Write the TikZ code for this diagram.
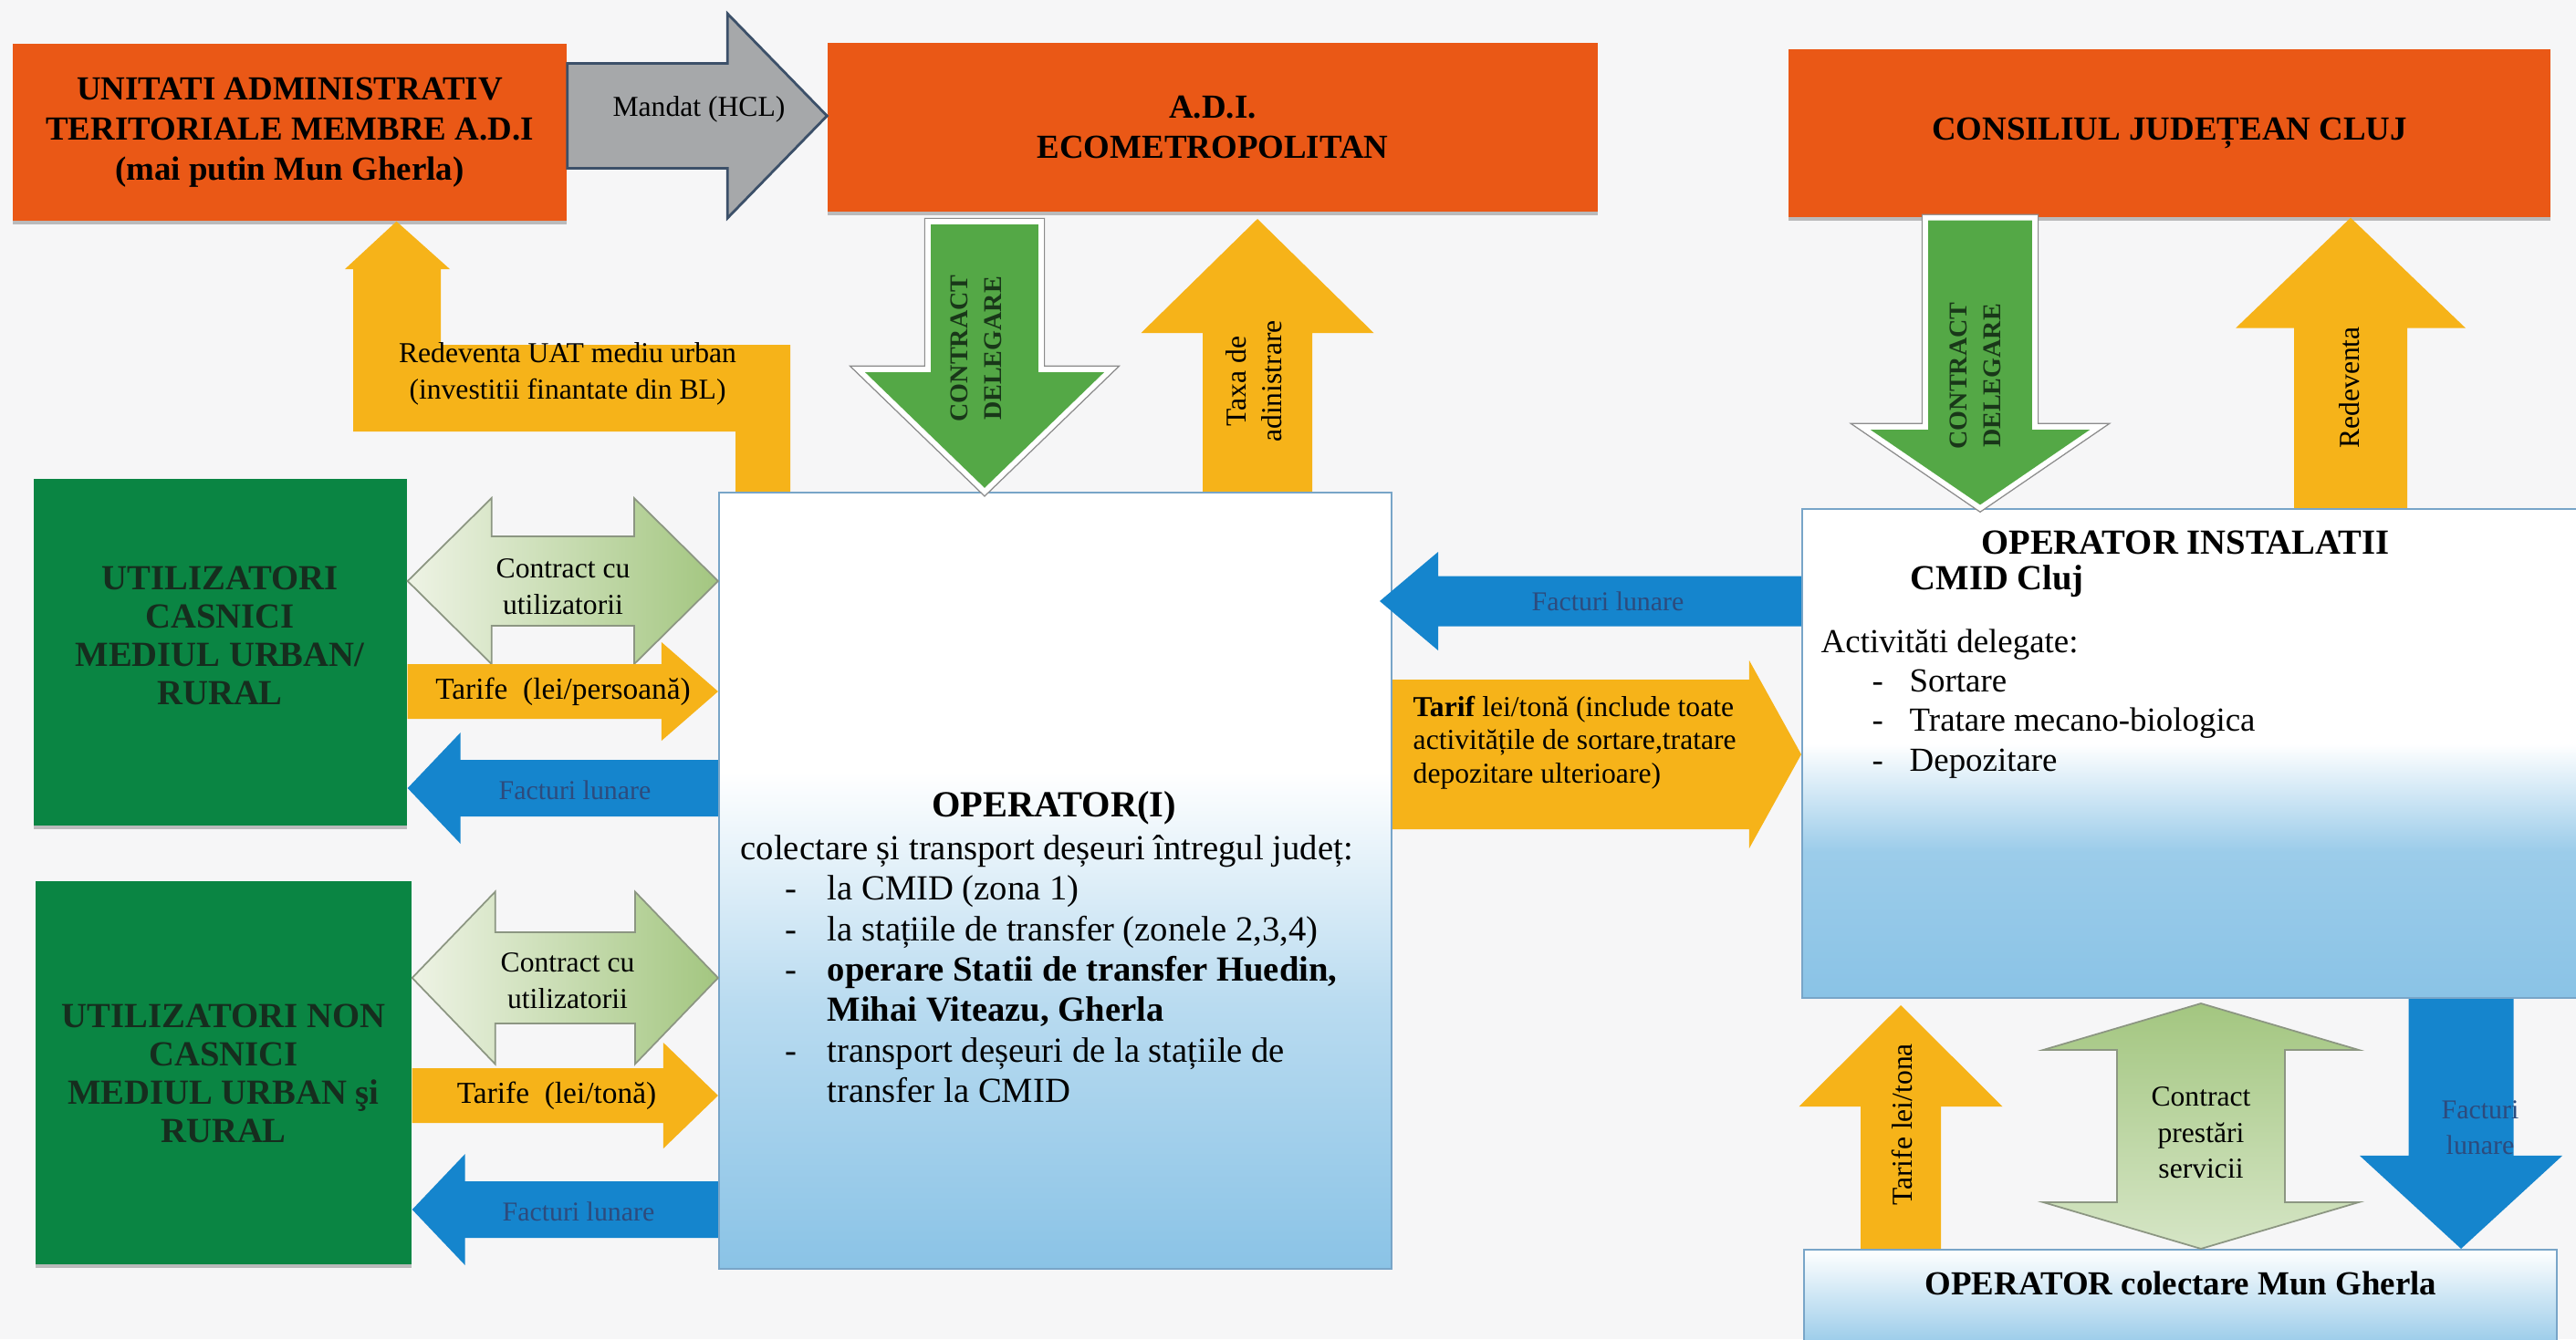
\documentclass[tikz,border=0pt]{standalone}
\usepackage{fontspec}
\setmainfont{Liberation Serif}
\usetikzlibrary{calc,shadows}

\definecolor{bgcol}{RGB}{246,246,247}
\definecolor{adiorange}{RGB}{234,88,22}
\definecolor{boxgreen}{RGB}{10,133,67}
\definecolor{boxtext}{RGB}{22,45,30}
\definecolor{dlgtext}{RGB}{25,55,25}
\definecolor{arryellow}{RGB}{246,179,25}
\definecolor{arrblue}{RGB}{21,133,205}
\definecolor{arrgreen}{RGB}{84,168,70}
\definecolor{bluetext}{RGB}{45,75,125}
\definecolor{cgreen}{RGB}{163,198,128}
\definecolor{cpale}{RGB}{238,243,229}
\definecolor{cedge}{RGB}{140,150,130}
\definecolor{mandgray}{RGB}{166,168,170}
\definecolor{mandedge}{RGB}{60,80,105}
\definecolor{opblue}{RGB}{138,195,230}
\definecolor{opedge}{RGB}{120,165,200}

\pgfdeclareverticalshading{opshade}{100bp}{color(0bp)=(opblue); color(25bp)=(opblue); color(42bp)=(opblue!60!white); color(57bp)=(white); color(100bp)=(white)}
\pgfdeclareverticalshading{instshade}{100bp}{color(0bp)=(opblue); color(25bp)=(opblue); color(40bp)=(opblue!85!white); color(51bp)=(white); color(100bp)=(white)}

% block arrow: [style]{tail}{tip}{body half}{head half}{head length}
\newcommand{\blockarrow}[6][]{%
  \coordinate (ba-h) at ($(#3)!#6!(#2)$);
  \path[#1] ($(#2)!#4!90:(#3)$) -- ($(ba-h)!#4!90:(#3)$) -- ($(ba-h)!#5!90:(#3)$) -- (#3)
    -- ($(ba-h)!#5!-90:(#3)$) -- ($(ba-h)!#4!-90:(#3)$) -- ($(#2)!#4!-90:(#3)$) -- cycle;}
% double arrow: [style]{end a}{end b}{body half}{head half}{head length}
\newcommand{\dblarrow}[6][]{%
  \coordinate (da-a) at ($(#2)!#6!(#3)$);
  \coordinate (da-b) at ($(#3)!#6!(#2)$);
  \path[#1] (#2) -- ($(da-a)!#5!90:(#3)$) -- ($(da-a)!#4!90:(#3)$) -- ($(da-b)!#4!-90:(#2)$)
    -- ($(da-b)!#5!-90:(#2)$) -- (#3) -- ($(da-b)!#5!90:(#2)$) -- ($(da-b)!#4!90:(#2)$)
    -- ($(da-a)!#4!-90:(#3)$) -- ($(da-a)!#5!-90:(#3)$) -- cycle;}
\newcommand{\opitem}{\hspace*{0.49cm}\makebox[0.46cm][l]{-}}
\newcommand{\institem}{\hspace*{0.56cm}\makebox[0.41cm][l]{-}}

\tikzset{
  orangebox/.style={fill=adiorange, inner sep=0pt, align=center,
    font=\bfseries\fontsize{10.5}{12.5}\selectfont,
    drop shadow={shadow xshift=0pt, shadow yshift=-1.2pt, fill=black!50, opacity=0.5}},
  greenbox/.style={fill=boxgreen, inner sep=0pt,
    drop shadow={shadow xshift=0pt, shadow yshift=-1.2pt, fill=black!50, opacity=0.5}},
  greentext/.style={align=center, text=boxtext, font=\bfseries\fontsize{11}{12}\selectfont},
  opbox/.style={draw=opedge, line width=0.6pt, inner sep=0pt, shade, shading=opshade},
  lbl/.style={align=center, inner sep=0pt, font=\fontsize{9}{11.2}\selectfont},
  vlbl/.style={lbl, rotate=90},
  blbl/.style={lbl, text=bluetext, font=\fontsize{8.5}{10.5}\selectfont},
  yarrow/.style={fill=arryellow},
  barrow/.style={fill=arrblue},
  garrow/.style={fill=arrgreen, preaction={draw=black!45, line width=2.4pt}, draw=white, line width=1.6pt},
  marrow/.style={fill=mandgray, draw=mandedge, line width=0.8pt},
  carrow/.style={shade, left color=cpale, right color=cgreen, draw=cedge, line width=0.5pt},
  vcarrow/.style={shade, top color=cgreen, bottom color=cgreen!45!white, draw=cedge, line width=0.5pt}
}

\begin{document}
\begin{tikzpicture}
\fill[bgcol] (0,0) rectangle (28.23,-14.68);
\path[use as bounding box] (0,0) rectangle (28.23,-14.68);

% top row
\node[orangebox, minimum width=6.07cm, minimum height=1.94cm] (uat) at (3.175,-1.45) {UNITATI ADMINISTRATIV\\TERITORIALE MEMBRE A.D.I\\(mai putin Mun Gherla)};
\node[orangebox, minimum width=8.44cm, minimum height=1.85cm] (adi) at (13.29,-1.395) {A.D.I.\\ECOMETROPOLITAN};
\node[orangebox, minimum width=8.35cm, minimum height=1.84cm] (cj) at (23.775,-1.46) {CONSILIUL JUDEȚEAN CLUJ};

% users
\node[greenbox, minimum width=4.09cm, minimum height=3.80cm] (casnic) at (2.415,-7.15) {};
\node[greentext] (casnicT) at (2.41,-6.97) {UTILIZATORI\\CASNICI\\MEDIUL URBAN/\\RURAL};
\node[greenbox, minimum width=4.12cm, minimum height=4.20cm] (noncas) at (2.45,-11.76) {};
\node[greentext] (noncasT) at (2.45,-11.77) {UTILIZATORI NON\\CASNICI\\MEDIUL URBAN şi\\RURAL};

% operators
\node[opbox, minimum width=7.37cm, minimum height=8.51cm] (op) at (11.565,-9.655) {};
\node[opbox, shading=instshade, minimum width=8.60cm, minimum height=5.36cm] (inst) at (24.05,-8.26) {};
\node[opbox, top color=white, bottom color=opblue!85!white, minimum width=8.25cm, minimum height=1.02cm] (gherla) at (23.895,-14.21) {};

% arrows, top
\coordinate (mandA) at (uat.east |- 0,-1.27);
\coordinate (mandB) at (adi.west |- 0,-1.27);
\blockarrow[marrow]{mandA}{mandB}{0.575cm}{1.12cm}{1.09cm}
\coordinate (dlgA) at (10.79,-2.43);
\coordinate (dlgB) at (10.79,0 |- op.north);
\blockarrow[garrow]{dlgA}{dlgB}{0.62cm}{1.385cm}{1.34cm}
\coordinate (taxA) at (13.78,0 |- op.north);
\coordinate (taxB) at (13.78,-2.40);
\blockarrow[yarrow]{taxA}{taxB}{0.60cm}{1.275cm}{1.25cm}
\coordinate (cjdA) at (21.70,0 |- cj.south);
\coordinate (cjdB) at (21.70,0 |- inst.north);
\blockarrow[garrow]{cjdA}{cjdB}{0.60cm}{1.30cm}{0.89cm}
\coordinate (cjrA) at (25.76,0 |- inst.north);
\coordinate (cjrB) at (25.76,0 |- cj.south);
\blockarrow[yarrow]{cjrA}{cjrB}{0.62cm}{1.26cm}{1.21cm}
\coordinate (rvA) at (8.06,0 |- op.north);
\coordinate (rvB) at (4.345,0 |- uat.south);
\path[yarrow] (rvA) |- (3.87,-4.73) -- (3.87,-2.95) -- (3.78,-2.95) -- (rvB) -- (4.93,-2.95)
  -- (4.83,-2.95) |- (8.66,-3.78) -- (8.66,0 |- op.north) -- cycle;

% arrows, middle
\coordinate (fa3A) at (inst.west |- 0,-6.59);
\coordinate (fa3B) at (15.12,-6.59);
\blockarrow[barrow]{fa3A}{fa3B}{0.275cm}{0.54cm}{0.64cm}
\coordinate (ta3A) at (op.east |- 0,-8.27);
\coordinate (ta3B) at (inst.west |- 0,-8.27);
\blockarrow[yarrow]{ta3A}{ta3B}{0.82cm}{1.03cm}{0.57cm}

% arrows, left
\coordinate (co1A) at (casnic.east |- 0,-6.37);
\coordinate (co1B) at (op.west |- 0,-6.37);
\dblarrow[carrow]{co1A}{co1B}{0.49cm}{0.91cm}{0.92cm}
\coordinate (ta1A) at (casnic.east |- 0,-7.58);
\coordinate (ta1B) at (op.west |- 0,-7.58);
\blockarrow[yarrow]{ta1A}{ta1B}{0.30cm}{0.54cm}{0.62cm}
\coordinate (fa1A) at (op.west |- 0,-8.64);
\coordinate (fa1B) at (casnic.east |- 0,-8.64);
\blockarrow[barrow]{fa1A}{fa1B}{0.31cm}{0.61cm}{0.58cm}
\coordinate (co2A) at (noncas.east |- 0,-10.72);
\coordinate (co2B) at (op.west |- 0,-10.72);
\dblarrow[carrow]{co2A}{co2B}{0.50cm}{0.945cm}{0.91cm}
\coordinate (ta2A) at (noncas.east |- 0,-12.01);
\coordinate (ta2B) at (op.west |- 0,-12.01);
\blockarrow[yarrow]{ta2A}{ta2B}{0.30cm}{0.58cm}{0.60cm}
\coordinate (fa2A) at (op.west |- 0,-13.26);
\coordinate (fa2B) at (noncas.east |- 0,-13.26);
\blockarrow[barrow]{fa2A}{fa2B}{0.31cm}{0.61cm}{0.58cm}

% arrows, bottom right
\coordinate (ta4A) at (20.83,0 |- gherla.north);
\coordinate (ta4B) at (20.83,-11.02);
\blockarrow[yarrow]{ta4A}{ta4B}{0.44cm}{1.115cm}{1.11cm}
\coordinate (co3A) at (24.12,-11.00);
\coordinate (co3B) at (24.12,0 |- gherla.north);
\dblarrow[vcarrow]{co3A}{co3B}{0.92cm}{1.73cm}{0.51cm}
\coordinate (fa4A) at (26.97,0 |- inst.south);
\coordinate (fa4B) at (26.97,0 |- gherla.north);
\blockarrow[barrow]{fa4A}{fa4B}{0.575cm}{1.11cm}{1.02cm}

% arrow labels
\node[lbl] (mandL) at (7.66,-1.20) {Mandat (HCL)};
\node[vlbl, text=dlgtext, font=\bfseries\fontsize{8}{10.5}\selectfont] (dlgL) at (10.70,-3.82) {CONTRACT\\DELEGARE};
\node[vlbl] (taxL) at (13.74,-4.18) {Taxa de\\adinistrare};
\node[vlbl, text=dlgtext, font=\bfseries\fontsize{8}{10.5}\selectfont] (cjdL) at (21.65,-4.12) {CONTRACT\\DELEGARE};
\node[vlbl] (cjrL) at (25.75,-4.25) {Redeventa};
\node[lbl] (rvL) at (6.22,-4.10) {Redeventa UAT mediu urban\\(investitii finantate din BL)};
\node[blbl] (fa3L) at (17.62,-6.59) {Facturi lunare};
\node[lbl, anchor=north west, align=left, font=\fontsize{9}{10.4}\selectfont] (ta3L) at (15.48,-7.62) {\textbf{Tarif} lei/tonă (include toate\\activitățile de sortare,tratare\\depozitare ulterioare)};
\node[lbl] (co1L) at (6.17,-6.43) {Contract cu\\utilizatorii};
\node[lbl, font=\fontsize{9.5}{11}\selectfont] (ta1L) at (6.17,-7.58) {Tarife\ \ (lei/persoană)};
\node[blbl] (fa1L) at (6.30,-8.66) {Facturi lunare};
\node[lbl] (co2L) at (6.22,-10.75) {Contract cu\\utilizatorii};
\node[lbl, font=\fontsize{9.5}{11}\selectfont] (ta2L) at (6.10,-12.01) {Tarife\ \ (lei/tonă)};
\node[blbl] (fa2L) at (6.34,-13.28) {Facturi lunare};
\node[vlbl] (ta4L) at (20.84,-12.33) {Tarife lei/tona};
\node[lbl] (co3L) at (24.12,-12.42) {Contract\\prestări\\servicii};
\node[blbl, font=\fontsize{8.5}{11}\selectfont] (fa4L) at (27.18,-12.36) {Facturi\\lunare};

% operator texts
\node[font=\bfseries\fontsize{11.5}{13}\selectfont, inner sep=0pt] (opT) at (11.55,-8.86) {OPERATOR(I)};
\node[anchor=north west, align=left, inner sep=0pt, font=\fontsize{11}{12.6}\selectfont] (opB) at (8.11,-9.15) {colectare și transport deșeuri întregul județ:\\
  \opitem la CMID (zona 1)\\
  \opitem la stațiile de transfer (zonele 2,3,4)\\
  \opitem\textbf{operare Statii de transfer Huedin,}\\
  \hspace*{0.95cm}\textbf{Mihai Viteazu, Gherla}\\
  \opitem transport deșeuri de la stațiile de\\
  \hspace*{0.95cm}transfer la CMID};
\node[font=\bfseries\fontsize{11}{13}\selectfont, inner sep=0pt] (instT) at (23.95,-5.95) {OPERATOR INSTALATII};
\node[anchor=west, font=\bfseries\fontsize{11}{13}\selectfont, inner sep=0pt] (instC) at (20.93,-6.37) {CMID Cluj};
\node[anchor=north west, align=left, inner sep=0pt, font=\fontsize{10.5}{12.3}\selectfont] (instB) at (19.95,-6.89) {Activităti delegate:\\
  \institem Sortare\\
  \institem Tratare mecano-biologica\\
  \institem Depozitare};
\node[font=\bfseries\fontsize{10.5}{12}\selectfont, inner sep=0pt] (gherlaT) at (23.90,-14.07) {OPERATOR colectare Mun Gherla};
\end{tikzpicture}
\end{document}
